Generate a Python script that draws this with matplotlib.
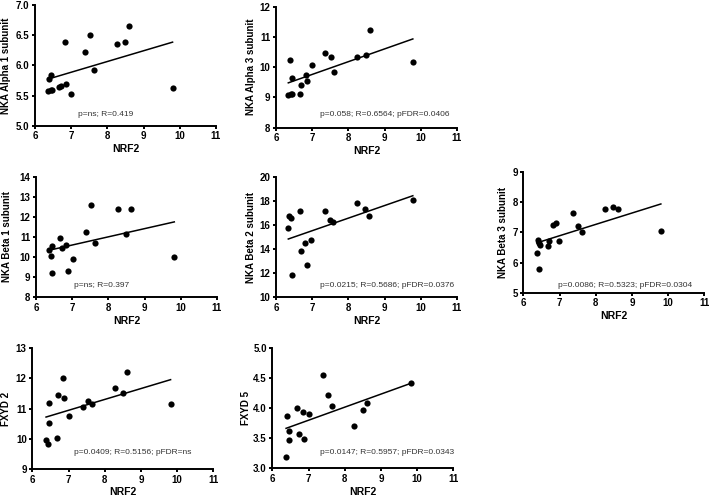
import numpy as np
import matplotlib
matplotlib.use("Agg")
import matplotlib.pyplot as plt

plt.rcParams['font.family'] = ['Liberation Sans', 'DejaVu Sans']

# ---- data ----
a1_x = [6.35, 6.44, 6.46, 6.39, 6.44, 6.67, 6.72, 6.87, 7.00, 6.83, 7.38, 7.52, 7.63, 8.26, 8.49, 8.61, 9.80]
a1_y = [5.575, 5.585, 5.59, 5.77, 5.845, 5.64, 5.66, 5.69, 5.52, 6.39, 6.22, 6.50, 5.92, 6.35, 6.38, 6.66, 5.63]

a3_x = [6.34, 6.41, 6.45, 6.39, 6.43, 6.66, 6.69, 6.82, 6.87, 6.99, 7.36, 7.51, 7.61, 8.23, 8.48, 8.60, 9.78]
a3_y = [9.08, 9.11, 9.13, 10.24, 9.65, 9.10, 9.41, 9.75, 9.54, 10.07, 10.46, 10.35, 9.84, 10.35, 10.40, 11.24, 10.17]

b1_x = [6.37, 6.41, 6.43, 6.45, 6.66, 6.71, 6.83, 6.88, 7.01, 7.37, 7.52, 7.63, 8.26, 8.49, 8.62, 9.82]
b1_y = [10.35, 10.07, 10.57, 9.21, 10.97, 10.47, 10.60, 9.29, 9.91, 11.23, 12.59, 10.68, 12.38, 11.15, 12.38, 9.99]

b2_x = [6.34, 6.37, 6.41, 6.43, 6.65, 6.68, 6.80, 6.85, 6.97, 7.36, 7.49, 7.58, 8.23, 8.46, 8.58, 9.78]
b2_y = [15.75, 16.74, 16.60, 11.82, 17.15, 13.87, 14.48, 12.68, 14.75, 17.15, 16.38, 16.24, 17.79, 17.32, 16.74, 18.09]

b3_x = [6.37, 6.41, 6.44, 6.46, 6.44, 6.67, 6.71, 6.83, 6.89, 6.99, 7.36, 7.52, 7.62, 8.26, 8.49, 8.61, 9.80]
b3_y = [6.33, 6.75, 6.66, 6.58, 5.78, 6.55, 6.71, 7.25, 7.30, 6.73, 7.66, 7.22, 7.00, 7.79, 7.86, 7.78, 7.05]

f2_x = [6.38, 6.42, 6.46, 6.47, 6.69, 6.72, 6.84, 6.88, 7.02, 7.39, 7.53, 7.64, 8.28, 8.51, 8.62, 9.82]
f2_y = [9.96, 9.82, 11.18, 10.54, 10.04, 11.44, 12.03, 11.36, 10.77, 11.04, 11.25, 11.15, 11.67, 11.53, 12.23, 11.15]

f5_x = [6.38, 6.41, 6.47, 6.46, 6.69, 6.73, 6.84, 6.88, 7.02, 7.39, 7.54, 7.64, 8.27, 8.50, 8.62, 9.83]
f5_y = [3.18, 3.88, 3.62, 3.47, 4.01, 3.57, 3.93, 3.49, 3.90, 4.55, 4.22, 4.04, 3.71, 3.97, 4.08, 4.43]

ylabels = ["NKA Alpha 1 subunit", "NKA Alpha 3 subunit", "NKA Beta 1 subunit",
           "NKA Beta 2 subunit", "NKA Beta 3 subunit", "FXYD 2", "FXYD 5"]
stats = ["p=ns; R=0.419", "p=0.058; R=0.6564; pFDR=0.0406", "p=ns; R=0.397",
         "p=0.0215; R=0.5686; pFDR=0.0376", "p=0.0086; R=0.5323; pFDR=0.0304",
         "p=0.0409; R=0.5156; pFDR=ns", "p=0.0147; R=0.5957; pFDR=0.0343"]
yticks = [[5.0, 5.5, 6.0, 6.5, 7.0], [8, 9, 10, 11, 12], [8, 9, 10, 11, 12, 13, 14],
          [10, 12, 14, 16, 18, 20], [5, 6, 7, 8, 9], [9, 10, 11, 12, 13],
          [3.0, 3.5, 4.0, 4.5, 5.0]]
ytick_fmt = ["%.1f", "%d", "%d", "%d", "%d", "%d", "%.1f"]
xticks = [6, 7, 8, 9, 10, 11]
xs = [a1_x, a3_x, b1_x, b2_x, b3_x, f2_x, f5_x]
ys = [a1_y, a3_y, b1_y, b2_y, b3_y, f2_y, f5_y]

# ---- layout ----
W, H = 709, 498
boxes = [(35, 5, 125.7), (276, 6.7, 127.7), (36, 176.7, 297.3), (276, 176.7, 297.3),
         (523.3, 172.3, 292.7), (32.3, 348.3, 469), (272.3, 348.3, 468.3)]
ylab_x = [-0.135, -0.113, -0.131, -0.113, -0.086, -0.120, -0.115]
txt_pos = [(0.235, 0.089), (0.243, 0.105), (0.21, 0.094), (0.243, 0.096),
           (0.19, 0.058), (0.23, 0.138), (0.264, 0.133)]

fig = plt.figure(figsize=(W / 100, H / 100), dpi=100)
for i in range(7):
    left, top, bottom = boxes[i]
    ax = fig.add_axes([left / W, (H - bottom) / H, 181 / W, (bottom - top) / H])
    x = np.array(xs[i]); y = np.array(ys[i])
    ax.scatter(x, y, s=20, color='black', zorder=3, linewidths=0)
    m, b = np.polyfit(x, y, 1)
    xl = np.array([x.min(), x.max()])
    ax.plot(xl, m * xl + b, color='black', lw=1.1)
    ax.set_xlim(6, 11)
    ax.set_ylim(yticks[i][0], yticks[i][-1])
    ax.set_xticks(xticks)
    ax.set_yticks(yticks[i])
    ax.set_yticklabels([ytick_fmt[i] % v for v in yticks[i]])
    for sp in ['top', 'right']:
        ax.spines[sp].set_visible(False)
    for sp in ['left', 'bottom']:
        ax.spines[sp].set_linewidth(1.4)
    ax.tick_params(width=1.4, length=2.5, labelsize=7, pad=1.5)
    for lab in ax.get_xticklabels() + ax.get_yticklabels():
        lab.set_fontweight('bold')
    ax.set_xlabel("NRF2", fontsize=7.5, fontweight='bold', labelpad=2)
    ax.set_ylabel(ylabels[i], fontsize=7, fontweight='bold')
    ax.yaxis.set_label_coords(ylab_x[i], 0.5)
    ax.text(txt_pos[i][0], txt_pos[i][1], stats[i], transform=ax.transAxes,
            fontsize=6, color='#333333', ha='left', va='center')

fig.savefig("out.png", dpi=100)
